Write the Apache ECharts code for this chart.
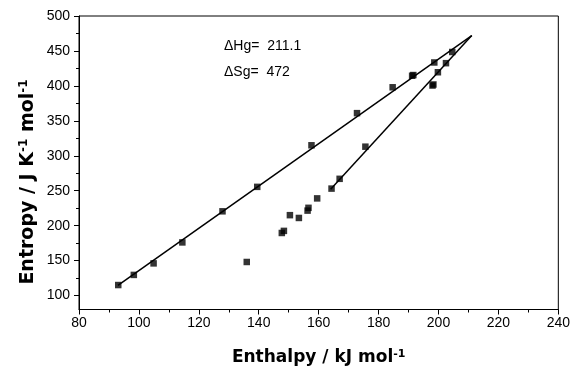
<!DOCTYPE html>
<html><head><meta charset="utf-8">
<script src="https://cdn.jsdelivr.net/npm/echarts@6/dist/echarts.min.js"></script>
<style>html,body{margin:0;padding:0;background:#fff}#c{width:573px;height:371px}</style>
</head><body><div id="c"></div>
<script>
const upperH = [93.1, 98.3, 104.9, 114.5, 127.9, 139.5, 157.6, 172.8, 184.7, 191.2, 191.6, 198.6, 204.6];
const upperS = [115, 129.5, 146, 176, 220.5, 255.5, 315, 361, 398, 414.5, 415.5, 433.5, 448.5];
const lowerH = [136.0, 147.7, 148.4, 150.4, 153.4, 156.3, 156.6, 159.5, 164.3, 167.0, 175.6, 198.0, 198.3, 199.8, 202.5];
const lowerS = [148, 189.5, 192.5, 215, 211, 221.5, 225.5, 239, 253, 267, 313, 400.5, 402, 419.5, 432.5];
const fitUpperH = [93, 211.1];
const fitUpperS = [114.5, 472];
const fitLowerH = [164, 211.1];
const fitLowerS = [252, 472];
const yMajor = [100, 150, 200, 250, 300, 350, 400, 450, 500];
const yMinor = [125, 175, 225, 275, 325, 375, 425, 475];
const annotations = ['\u0394Hg=  211.1', '\u0394Sg=  472'];

const zip = (a, b) => a.map((v, i) => [v, b[i]]);
const F = 'Liberation Sans, Arial, sans-serif';
const FT = 'DejaVu Sans, sans-serif';
const chart = echarts.init(document.getElementById('c'), null, {renderer: 'canvas'});
chart.setOption({
  animation: false,
  backgroundColor: '#fff',
  grid: {left: 79, right: 12, top: 16, bottom: 60, show: true, borderColor: '#000', borderWidth: 1},
  xAxis: {
    type: 'value', min: 80, max: 240, interval: 20,
    axisLine: {lineStyle: {color: '#000', width: 1}},
    axisTick: {length: 5, lineStyle: {color: '#000'}},
    minorTick: {show: true, splitNumber: 2, length: 3, lineStyle: {color: '#000'}},
    splitLine: {show: false},
    axisLabel: {color: '#000', fontFamily: F, fontSize: 14, margin: 7},
    name: '{t|Enthalpy / kJ mol}{s|-1}',
    nameLocation: 'middle', nameGap: 39,
    nameTextStyle: {rich: {
      t: {fontFamily: FT, fontSize: 17, fontWeight: 'bold', color: '#000'},
      s: {fontFamily: FT, fontSize: 11, fontWeight: 'bold', color: '#000', padding: [0, 0, 7, 0]}
    }}
  },
  yAxis: [{
    type: 'value', min: 80, max: 500,
    axisLine: {show: true, lineStyle: {color: '#000', width: 1}},
    axisTick: {show: true, length: 5, customValues: yMajor, lineStyle: {color: '#000'}},
    splitLine: {show: false},
    axisLabel: {color: '#000', fontFamily: F, fontSize: 14, margin: 9, customValues: yMajor}
  }, {
    type: 'value', min: 80, max: 500, position: 'left',
    axisLine: {show: false},
    axisTick: {show: true, length: 3, customValues: yMinor, lineStyle: {color: '#000'}},
    axisLabel: {show: false, customValues: yMinor},
    splitLine: {show: false}
  }],
  series: [
    {type: 'line', data: zip(fitUpperH, fitUpperS), symbol: 'none', lineStyle: {color: '#000', width: 1.5}, z: 2},
    {type: 'line', data: zip(fitLowerH, fitLowerS), symbol: 'none', lineStyle: {color: '#000', width: 1.5}, z: 2},
    {type: 'scatter', data: zip(upperH, upperS), symbol: 'rect', symbolSize: 6.5, itemStyle: {color: '#000'}, z: 3},
    {type: 'scatter', data: zip(lowerH, lowerS), symbol: 'rect', symbolSize: 6.5, itemStyle: {color: '#000'}, z: 3}
  ],
  graphic: [
    {type: 'text', left: 224, top: 39, style: {text: annotations[0], font: '14px ' + F, fill: '#000'}},
    {type: 'text', left: 224, top: 65, style: {text: annotations[1], font: '14px ' + F, fill: '#000'}},
    {type: 'text', x: 28, y: 182, rotation: Math.PI / 2, style: {
      text: '{t|Entropy / J K}{s|-1}{t| mol}{s|-1}', align: 'center', verticalAlign: 'middle',
      rich: {
        t: {fontFamily: FT, fontSize: 19, fontWeight: 'bold', fill: '#000'},
        s: {fontFamily: FT, fontSize: 12, fontWeight: 'bold', fill: '#000', padding: [0, 0, 8, 0]}
      }
    }}
  ]
});
</script></body></html>
